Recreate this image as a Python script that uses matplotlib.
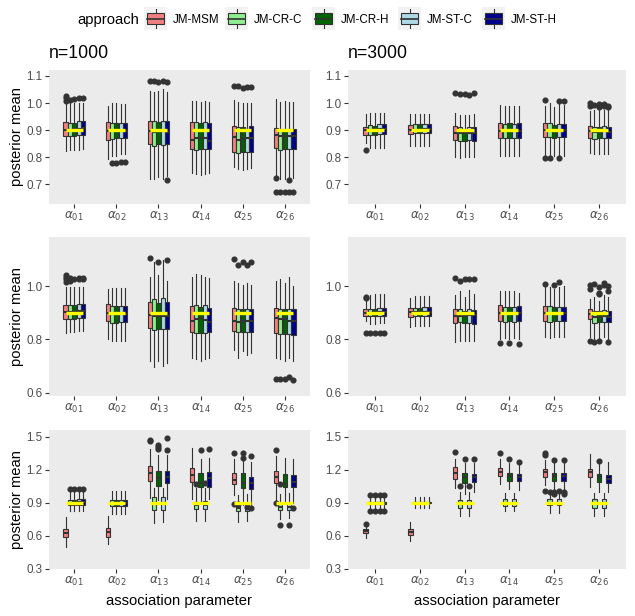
import matplotlib
matplotlib.use("Agg")
import matplotlib.pyplot as plt
from matplotlib.patches import Rectangle

plt.rcParams['font.family'] = ['Liberation Sans', 'DejaVu Sans']

#DATA-------------------------------------------------------------------------------------------------------------------#
approaches = ["JM-MSM", "JM-CR-C", "JM-CR-H", "JM-ST-C", "JM-ST-H"]
colors = ["#F08080", "#90EE90", "#006400", "#ADD8E6", "#00008B"]
params = [r"$\alpha_{01}$", r"$\alpha_{02}$", r"$\alpha_{13}$", r"$\alpha_{14}$", r"$\alpha_{25}$", r"$\alpha_{26}$"]
true_value = [0.9, 0.9, 0.9, 0.9, 0.9, 0.9]

# rows = parameters, columns = approaches #
# top left (n=1000) #
tl_lo = [[.823, .825, .826, .828, .830], [.795, .805, .805, .810, .810], [.718, .720, .725, .720, .730],
         [.740, .738, .735, .738, .740], [.765, .755, .752, .758, .760], [.735, .718, .720, .720, .722]]
tl_q1 = [[.878, .877, .880, .882, .882], [.862, .868, .870, .870, .872], [.848, .842, .850, .845, .848],
         [.830, .828, .830, .830, .830], [.820, .815, .820, .820, .820], [.833, .828, .830, .830, .830]]
tl_med = [[.902, .902, .903, .905, .908], [.898, .895, .895, .895, .895], [.895, .893, .895, .895, .893],
          [.865, .870, .870, .872, .860], [.875, .865, .868, .870, .872], [.882, .878, .878, .878, .878]]
tl_q3 = [[.930, .928, .928, .932, .933], [.930, .925, .925, .925, .925], [.935, .932, .930, .935, .932],
         [.930, .930, .928, .930, .926], [.915, .910, .910, .905, .915], [.908, .905, .905, .905, .905]]
tl_hi = [[.995, 1.0, 1.0, 1.0, 1.0], [.988, 1.0, 1.0, .998, .995], [1.045, 1.04, 1.045, 1.05, 1.04],
         [1.008, 1.008, 1.005, 1.008, 1.005], [1.01, 1.005, 1.0, 1.0, 1.0], [1.015, 1.005, 1.008, 1.005, 1.005]]
tl_out = [[[1.008, 1.02, 1.027], [1.012], [1.015], [1.017], [1.017]],
          [[], [.778], [.778], [.782], [.782]],
          [[1.082], [1.08], [1.078], [1.08], [1.077, .715]],
          [[], [], [], [], []],
          [[1.063], [1.062], [1.055], [1.06], [1.058]],
          [[.722, .673], [.673], [.67], [.716, .673], [.673]]]

# top right (n=3000) #
tr_lo = [[.852, .835, .835, .835, .835], [.840, .843, .843, .843, .843], [.800, .797, .800, .800, .800],
         [.805, .803, .803, .803, .803], [.805, .805, .803, .805, .803], [.815, .812, .812, .812, .812]]
tr_q1 = [[.883, .883, .882, .886, .886], [.885, .890, .890, .890, .890], [.862, .860, .858, .862, .858],
         [.872, .872, .870, .872, .872], [.873, .875, .872, .875, .875], [.870, .868, .870, .870, .870]]
tr_med = [[.900, .902, .900, .904, .905], [.902, .902, .902, .903, .903], [.890, .888, .888, .890, .890],
          [.898, .898, .898, .898, .898], [.900, .900, .898, .900, .900], [.895, .893, .893, .895, .893]]
tr_q3 = [[.913, .918, .915, .922, .922], [.918, .922, .922, .922, .922], [.915, .912, .905, .912, .912],
         [.925, .922, .925, .922, .925], [.925, .925, .920, .922, .922], [.915, .913, .913, .915, .913]]
tr_hi = [[.960, .965, .962, .965, .965], [.960, .958, .958, .958, .958], [.965, .955, .955, .955, .958],
         [.993, .988, .990, .990, .990], [.990, 1.0, .985, .995, .993], [.972, .975, .975, .975, .980]]
tr_out = [[[.825], [], [], [], []],
          [[], [], [], [], []],
          [[1.037], [1.033], [1.035], [1.03], [1.036]],
          [[], [], [], [], []],
          [[1.01, .797], [.797], [], [1.007, .797], [1.007]],
          [[.99, 1.0], [.993], [.995, .985], [.997, .99], [.99, .985]]]

# middle left #
ml_lo = [[.825, .826, .826, .830, .830], [.800, .795, .795, .795, .795], [.718, .695, .720, .700, .712],
         [.730, .725, .720, .725, .730], [.760, .730, .755, .740, .750], [.730, .725, .720, .730, .720]]
ml_q1 = [[.875, .875, .876, .878, .878], [.869, .862, .862, .863, .863], [.844, .836, .840, .840, .840],
         [.828, .825, .825, .825, .828], [.830, .828, .828, .828, .828], [.822, .818, .820, .818, .816]]
ml_med = [[.903, .903, .903, .905, .905], [.900, .895, .895, .895, .895], [.890, .888, .888, .888, .888],
          [.870, .875, .878, .873, .865], [.870, .863, .868, .870, .868], [.878, .875, .877, .870, .870]]
ml_q3 = [[.930, .928, .928, .932, .932], [.934, .925, .925, .925, .925], [.941, .952, .935, .955, .940],
         [.925, .928, .922, .928, .918], [.918, .912, .915, .915, .912], [.918, .912, .912, .915, .912]]
ml_hi = [[.996, .996, .996, .996, .996], [.990, .993, .993, .993, .993], [1.034, 1.09, 1.04, 1.096, 1.02],
         [1.035, 1.045, 1.04, 1.035, 1.03], [1.02, 1.01, 1.005, 1.01, 1.005], [1.02, 1.025, 1.01, 1.035, 1.0]]
ml_out = [[[1.015, 1.025, 1.035, 1.04], [1.02, 1.03], [1.025], [1.025, 1.03], [1.025, 1.03]],
          [[], [], [], [], []],
          [[1.106], [], [1.092], [], [1.096]],
          [[], [], [], [], []],
          [[1.1], [1.08], [1.09], [1.08], [1.09]],
          [[.65], [.65], [.652], [.66], [.648]]]

# middle right #
mr_lo = [[.870, .858, .858, .860, .860], [.845, .848, .848, .848, .848], [.790, .795, .792, .795, .792],
         [.800, .805, .800, .805, .800], [.810, .805, .810, .810, .810], [.810, .800, .805, .810, .800]]
mr_q1 = [[.886, .886, .886, .888, .888], [.885, .886, .886, .888, .888], [.860, .865, .860, .862, .857],
         [.870, .865, .868, .866, .870], [.870, .865, .870, .868, .868], [.875, .862, .865, .865, .865]]
mr_med = [[.900, .900, .902, .903, .903], [.902, .902, .902, .903, .903], [.888, .888, .887, .890, .890],
          [.900, .898, .898, .898, .898], [.900, .898, .895, .900, .900], [.895, .885, .885, .887, .885]]
mr_q3 = [[.913, .915, .915, .918, .918], [.918, .918, .918, .920, .920], [.913, .912, .905, .915, .910],
         [.930, .920, .922, .920, .925], [.925, .925, .922, .922, .922], [.912, .905, .905, .910, .905]]
mr_hi = [[.945, .965, .970, .970, .970], [.955, .962, .962, .962, .962], [.968, .980, .960, .985, .970],
         [.980, .980, .980, .980, .975], [1.0, .995, .990, .995, 1.0], [.950, .960, .945, .965, .960]]
mr_out = [[[.955, .96, .825], [.822], [.822], [.822], [.822]],
          [[], [], [], [], []],
          [[1.03], [1.02], [1.025], [1.025], [1.027]],
          [[.787], [], [.787], [], [.783]],
          [[1.008], [], [1.003], [1.015], []],
          [[.99, 1.005, .795], [1.008, .79], [.998, .975, .97, .792], [1.01, 1.005], [1.0, .98, .79]]]

# bottom left #
bl_lo = [[.495, .825, .825, .825, .825], [.525, .80, .80, .80, .80], [.945, .715, .92, .725, .93],
         [.93, .735, .91, .735, .93], [.97, .725, .875, .73, .86], [.925, .75, .90, .76, .90]]
bl_q1 = [[.585, .875, .875, .878, .878], [.585, .870, .870, .870, .870], [1.095, .834, 1.05, .835, 1.074],
         [1.086, .845, 1.04, .845, 1.04], [1.065, .82, 1.03, .82, 1.02], [1.08, .835, 1.04, .835, 1.045]]
bl_med = [[.62, .90, .90, .905, .905], [.63, .895, .895, .895, .90], [1.17, .90, 1.12, .90, 1.13],
          [1.15, .88, 1.08, .88, 1.12], [1.11, .855, 1.08, .855, 1.08], [1.135, .86, 1.07, .86, 1.09]]
bl_q3 = [[.66, .925, .925, .93, .93], [.672, .92, .92, .92, .92], [1.236, .954, 1.185, .955, 1.185],
         [1.215, .91, 1.165, .915, 1.175], [1.17, .90, 1.165, .895, 1.13], [1.19, .90, 1.16, .90, 1.155]]
bl_hi = [[.765, 1.0, 1.0, 1.0, 1.0], [.775, 1.01, 1.01, 1.01, 1.01], [1.39, 1.035, 1.33, 1.03, 1.33],
         [1.40, 1.035, 1.30, 1.03, 1.31], [1.30, .97, 1.29, .98, 1.27], [1.32, .98, 1.31, .99, 1.30]]
bl_out = [[[], [1.02], [1.02], [1.02], [1.02]],
          [[], [], [], [], []],
          [[1.47, 1.46], [], [1.39, 1.41, 1.42], [], [1.38, 1.485]],
          [[], [1.07], [1.375], [1.075], [1.385]],
          [[1.355, .885], [.885], [1.355, 1.31], [.86], [1.32, .855]],
          [[1.375, .90], [.70, 1.065], [], [.70], [.855]]]

# bottom right #
br_lo = [[.575, .84, .84, .84, .84], [.555, .855, .855, .855, .855], [1.03, .78, .98, .78, 1.0],
         [1.07, .82, 1.02, .82, 1.015], [1.06, .81, 1.02, .81, 1.01], [1.04, .78, 1.0, .78, 1.0]]
br_q1 = [[.624, .89, .89, .89, .89], [.605, .895, .895, .895, .895], [1.115, .855, 1.08, .855, 1.085],
         [1.145, .87, 1.095, .87, 1.095], [1.135, .875, 1.095, .875, 1.095], [1.13, .855, 1.085, .855, 1.08]]
br_med = [[.645, .90, .90, .90, .90], [.63, .90, .90, .90, .90], [1.17, .90, 1.13, .90, 1.13],
          [1.18, .90, 1.14, .90, 1.13], [1.18, .90, 1.14, .90, 1.14], [1.175, .90, 1.135, .90, 1.115]]
br_q3 = [[.66, .905, .905, .905, .91], [.66, .905, .905, .905, .905], [1.22, .92, 1.165, .92, 1.16],
         [1.215, .93, 1.165, .93, 1.16], [1.21, .93, 1.17, .93, 1.165], [1.205, .93, 1.16, .93, 1.155]]
br_hi = [[.685, .96, .96, .96, .96], [.72, .955, .955, .955, .955], [1.30, 1.0, 1.26, 1.0, 1.26],
         [1.30, .99, 1.26, .99, 1.24], [1.29, .99, 1.26, .99, 1.26], [1.34, .99, 1.26, .99, 1.265]]
br_out = [[[.71], [.97, .825], [.97, .825], [.97, .825], [.97, .825]],
          [[], [], [], [], []],
          [[1.36], [1.05], [1.30], [1.05], [1.295]],
          [[1.35], [], [1.30], [], [1.27]],
          [[1.33, 1.35, 1.01], [1.0], [1.29, .975, 1.0], [1.005], [1.29, .98, .995]],
          [[], [], [1.28], [], []]]

#GENERAL_PARAMETERS-----------------------------------------------------------------------------------------------------#
W, H = 635, 616
bw = 0.104
edge = "#333333"

def px_rect(x0, y0, x1, y1):
    return [x0 / W, 1 - y1 / H, (x1 - x0) / W, (y1 - y0) / H]

def draw_panel(rect, lo, q1, med, q3, hi, out, ylim, yticks):
    ax = fig.add_axes(rect)
    ax.set_facecolor("#EBEBEB")
    for k in range(len(approaches)):
        stats = []
        for i in range(len(params)):
            stats.append(dict(whislo=lo[i][k], q1=q1[i][k], med=med[i][k], q3=q3[i][k],
                              whishi=hi[i][k], fliers=out[i][k]))
        pos = [i + 1 + (k - 2) * bw for i in range(len(params))]
        ax.bxp(stats, positions=pos, widths=bw * 0.95, patch_artist=True, showcaps=False, manage_ticks=False,
               boxprops=dict(facecolor=colors[k], edgecolor=edge, linewidth=0.8),
               medianprops=dict(color=edge, linewidth=1.5),
               whiskerprops=dict(color=edge, linewidth=0.8),
               flierprops=dict(marker="o", markerfacecolor=edge, markeredgecolor=edge, markersize=3.4))
    xs = list(range(1, len(params) + 1))
    ax.hlines(true_value, [x - 0.2 for x in xs], [x + 0.2 for x in xs], color="#FFFF00", lw=2.4, zorder=6)
    ax.set_xlim(0.4, 6.6)
    ax.set_ylim(*ylim)
    ax.set_xticks(xs)
    ax.set_xticklabels(params)
    ax.set_yticks(yticks)
    ax.set_yticklabels([f"{v:.1f}" for v in yticks])
    for s in ax.spines.values():
        s.set_visible(False)
    ax.tick_params(length=2.6, width=0.8, color=edge, labelcolor="#4D4D4D", labelsize=8.4, pad=2)
    ax.tick_params(axis="x", labelsize=8.6)
    return ax

#PLOTTING---------------------------------------------------------------------------------------------------------------#
fig = plt.figure(figsize=(W / 100, H / 100), dpi=100)

# overlay for legend #
lax = fig.add_axes([0, 0, 1, 1])
lax.set_xlim(0, W)
lax.set_ylim(H, 0)
lax.axis("off")

rows = [(70, 204), (237, 396), (430, 569)]
cols = [(49, 310), (348, 626)]
ylims = [(0.627, 1.122), (0.587, 1.184), (0.297, 1.56)]
yticks = [[0.7, 0.8, 0.9, 1.0, 1.1], [0.6, 0.8, 1.0], [0.3, 0.6, 0.9, 1.2, 1.5]]
panel_data = [[(tl_lo, tl_q1, tl_med, tl_q3, tl_hi, tl_out), (tr_lo, tr_q1, tr_med, tr_q3, tr_hi, tr_out)],
              [(ml_lo, ml_q1, ml_med, ml_q3, ml_hi, ml_out), (mr_lo, mr_q1, mr_med, mr_q3, mr_hi, mr_out)],
              [(bl_lo, bl_q1, bl_med, bl_q3, bl_hi, bl_out), (br_lo, br_q1, br_med, br_q3, br_hi, br_out)]]

for r, (y0, y1) in enumerate(rows):
    for c, (x0, x1) in enumerate(cols):
        draw_panel(px_rect(x0, y0, x1, y1), *panel_data[r][c], ylims[r], yticks[r])
    fig.text(17.5 / W, 1 - (y0 + y1) / 2 / H, "posterior mean", rotation=90, ha="center", va="center", fontsize=10.6)

for (x0, x1) in cols:
    fig.text((x0 + x1) / 2 / W, 1 - 601 / H, "association parameter", ha="center", va="center", fontsize=10.6)

fig.text(49 / W, 1 - 53 / H, "n=1000", ha="left", va="center", fontsize=12.7)
fig.text(348 / W, 1 - 53 / H, "n=3000", ha="left", va="center", fontsize=12.7)

# Legend #
fig.text(77 / W, 1 - 20 / H, "approach", ha="left", va="center", fontsize=10.6)
key_x = [144, 225, 312, 398, 482]
for k, name in enumerate(approaches):
    kx = key_x[k]
    lax.add_patch(Rectangle((kx, 7), 23, 23, facecolor="#F2F2F2", edgecolor="none", zorder=1))
    lax.plot([kx + 11.5, kx + 11.5], [9, 28], color=edge, lw=0.8, zorder=2)
    lax.add_patch(Rectangle((kx + 3, 13), 17, 11, facecolor=colors[k], edgecolor=edge, lw=0.8, zorder=3))
    lax.plot([kx + 3, kx + 20], [18.5, 18.5], color=edge, lw=1.2, zorder=4)
    fig.text((kx + 29) / W, 1 - 20 / H, name, ha="left", va="center", fontsize=8.4)

plt.savefig("out.png", dpi=100)
